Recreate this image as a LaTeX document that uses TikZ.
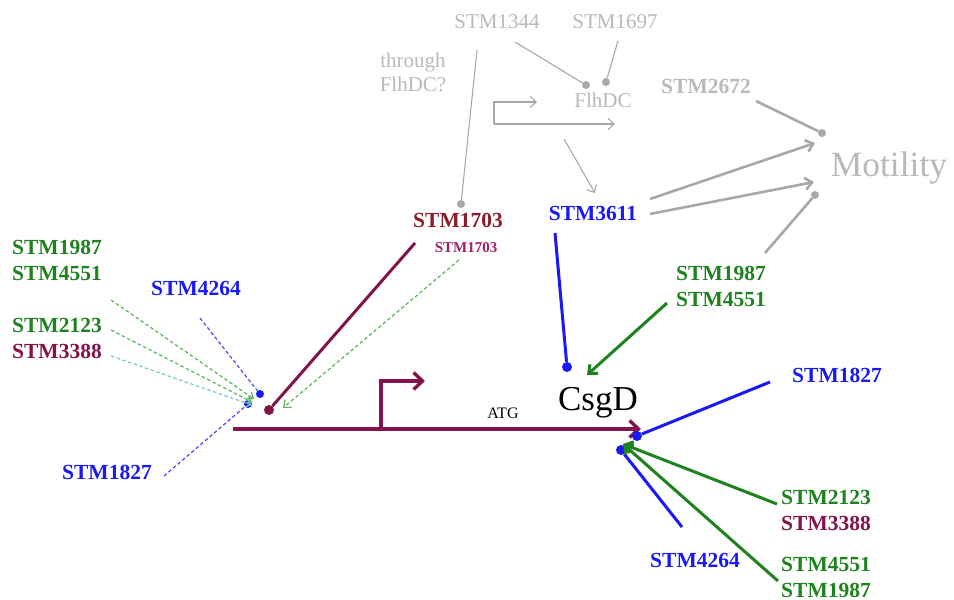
\documentclass[tikz,border=0pt]{standalone}
\usepackage{fontspec}
\setmainfont{Liberation Serif}
\usetikzlibrary{arrows.meta}
\definecolor{cblue}{RGB}{25,25,245}
\definecolor{cgreen}{RGB}{30,130,30}
\definecolor{cmaroon}{RGB}{130,20,75}
\definecolor{cdred}{RGB}{140,30,40}
\definecolor{cpurp}{RGB}{160,30,110}
\definecolor{cgray}{RGB}{168,168,168}
\definecolor{cgtext}{RGB}{185,185,185}
\definecolor{ccyan}{RGB}{120,200,200}
\definecolor{clgreen}{RGB}{90,180,90}
\definecolor{clblue}{RGB}{70,70,250}
\begin{document}
\begin{tikzpicture}[x=1pt,y=-1pt,
  lab/.style={font=\fontsize{21.5}{26}\selectfont\bfseries, inner sep=0, align=center},
  glab/.style={font=\fontsize{21}{24}\selectfont, text=cgtext, inner sep=0, align=center},
  dot/.style={circle, fill, inner sep=0, minimum size=10pt},
  sdot/.style={circle, fill, inner sep=0, minimum size=8pt},
  thin gray/.style={draw=cgray, line width=1.1pt},
  thick gray/.style={draw=cgray, line width=2.6pt},
  barb/.style={-{Straight Barb[length=7pt,width=12pt]}},
  dsh/.style={dashed, dash pattern=on 3.5pt off 2.5pt, line width=1.2pt}
]
\useasboundingbox (0,0) rectangle (954,600);

% ---------- gray upper part ----------
\node[glab] (s1344) at (497,22) {STM1344};
\node[glab] (s1697) at (615,22) {STM1697};
\node[glab] (thr) at (413,72) {through\\FlhDC?};
\node[glab] (flh) at (603,100) {FlhDC};
\node[lab, text=cgtext] (s2672) at (706,86) {STM2672};
\node[inner sep=0, text=cgtext, font=\fontsize{35.5}{40}\selectfont] (mot) at (889,168) {Motility};

\node[sdot, fill=cgray] (d1703) at (461,204) {};
\node[sdot, fill=cgray] (dfa) at (586,85) {};
\node[sdot, fill=cgray] (dfb) at (606,82) {};
\node[sdot, fill=cgray] (dma) at (822,133) {};
\node[sdot, fill=cgray] (dmb) at (815,195) {};

\coordinate (c1344a) at (477,50);
\coordinate (c1344b) at (515,42);
\coordinate (c1697) at (618,41);
\draw[thin gray] (c1344a) -- (d1703);
\draw[thin gray] (c1344b) -- (dfa);
\draw[thin gray] (c1697) -- (dfb);

% small promoter-like arrows
\coordinate (pt) at (494,102);
\coordinate (pb) at (494,124);
\coordinate (pte) at (537,102);
\coordinate (pbe) at (615,124);
\draw[thin gray, -{Straight Barb[length=6pt,width=11pt]}] (pb) -- (pt) -- (pte);
\draw[thin gray, -{Straight Barb[length=6pt,width=11pt]}] (pb) -- (pbe);
\coordinate (fa) at (564,139);
\coordinate (fb) at (595,193);
\draw[thin gray, -{Straight Barb[length=6pt,width=11pt]}] (fa) -- (fb);

% ---------- STM3611 ----------
\node[lab, text=cblue] (s3611) at (593,213) {STM3611};
\coordinate (m1) at (650,199);
\coordinate (m1e) at (815,143);
\coordinate (m2) at (650,214);
\coordinate (m2e) at (814,182);
\draw[thick gray, barb] (m1) -- (m1e);
\draw[thick gray, barb] (m2) -- (m2e);
\coordinate (c2672) at (756,101);
\draw[thick gray] (c2672) -- (dma);
\coordinate (crg) at (765,253);
\draw[thick gray] (crg) -- (dmb);

% ---------- STM1703 ----------
\node[lab, text=cdred] (s1703) at (458,220) {STM1703};
\node[lab, text=cpurp, font=\fontsize{15}{16}\selectfont\bfseries] (s1703s) at (466,248) {STM1703};

% ---------- main gene ----------
\coordinate (gs) at (233,429);
\coordinate (ge) at (641,429);
\draw[cmaroon, line width=3.4pt, -{Straight Barb[length=9pt,width=17pt]}] (gs) -- (ge);
\coordinate (pr0) at (381,429);
\coordinate (pr1) at (381,381);
\coordinate (pr2) at (425,381);
\draw[cmaroon, line width=3.4pt, -{Straight Barb[length=9pt,width=17pt]}] (pr0) -- (pr1) -- (pr2);
\node[inner sep=0, font=\fontsize{16}{18}\selectfont] (atg) at (503,413) {ATG};
\node[inner sep=0, font=\fontsize{35}{40}\selectfont] (csgd) at (598,403) {CsgD};

% maroon STM1703 repression
\node[dot, fill=cmaroon] (dm) at (269,410) {};
\coordinate (c1703) at (415,243);
\draw[cmaroon, line width=3pt] (c1703) -- (dm);
\coordinate (c1703s) at (459,260);
\coordinate (c1703e) at (283,408);
\draw[clgreen, dsh, -{Straight Barb[length=6pt,width=10pt]}] (c1703s) -- (c1703e);

% ---------- left dashed cluster ----------
\node[lab, text=cgreen] (l1987) at (57,260) {STM1987\\STM4551};
\node[lab, text=cgreen] (l2123) at (57,325) {STM2123};
\node[lab, text=cmaroon] (l3388) at (57,351) {STM3388};
\node[lab, text=cblue] (l4264) at (196,288) {STM4264};
\node[lab, text=cblue] (l1827) at (107,472) {STM1827};

\node[sdot, fill=cblue] (db1) at (260,394) {};
\node[sdot, fill=cblue] (db2) at (248,404) {};
\coordinate (cl1987) at (111,300);
\coordinate (cl2123) at (111,330);
\coordinate (cl3388) at (111,356);
\coordinate (cl4264) at (200,318);
\coordinate (cl1827) at (164,476);
\coordinate (tg1) at (254,399);
\coordinate (tg2) at (252,402);
\coordinate (tc) at (252,405);
\draw[clgreen, dsh, -{Straight Barb[length=5pt,width=8pt]}] (cl1987) -- (tg1);
\draw[clgreen, dsh, -{Straight Barb[length=5pt,width=8pt]}] (cl2123) -- (tg2);
\draw[ccyan, dsh, -{Straight Barb[length=5pt,width=8pt]}] (cl3388) -- (tc);
\draw[clblue, dsh] (cl4264) -- (db1);
\draw[clblue, dsh] (cl1827) -- (db2);

% ---------- STM3611 to CsgD ----------
\node[dot, fill=cblue] (d3611) at (567,367) {};
\coordinate (c3611) at (555,233);
\draw[cblue, line width=3pt] (c3611) -- (d3611);

\node[lab, text=cgreen] (r1987) at (721,286) {STM1987\\STM4551};
\coordinate (cr1987) at (667,303);
\coordinate (cr1987e) at (587,375);
\draw[cgreen, line width=3pt, barb] (cr1987) -- (cr1987e);

% ---------- right cluster ----------
\node[lab, text=cblue] (r1827) at (837,375) {STM1827};
\node[lab, text=cgreen] (r2123) at (826,497) {STM2123};
\node[lab, text=cmaroon] (r3388) at (826,523) {STM3388};
\node[lab, text=cgreen] (r4551) at (826,577) {STM4551\\STM1987};
\node[lab, text=cblue] (r4264) at (695,560) {STM4264};

\node[dot, fill=cblue] (dr1) at (637,436) {};
\node[dot, fill=cblue] (dr2) at (621,450) {};
\coordinate (cr1827) at (770,382);
\draw[cblue, line width=3pt] (cr1827) -- (dr1);
\coordinate (cr4264) at (682,527);
\draw[cblue, line width=3pt] (cr4264) -- (dr2);
\coordinate (tip) at (623,444);
\coordinate (cr2123) at (777,504);
\coordinate (cr4551) at (778,581);
\draw[cgreen, line width=3pt, barb] (cr2123) -- (tip);
\draw[cgreen, line width=3pt, barb] (cr4551) -- (tip);
\end{tikzpicture}
\end{document}
